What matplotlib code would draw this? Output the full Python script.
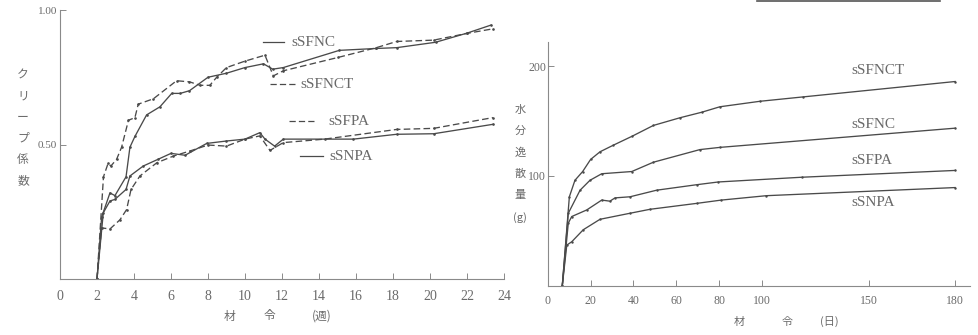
import numpy as np
import matplotlib
matplotlib.use("Agg")
from matplotlib import pyplot as plt
from matplotlib.lines import Line2D

# --- left chart: creep coefficient vs age (weeks)
sfnc_x = [2.0, 2.25, 2.7, 2.97, 3.57, 3.78, 4.05, 4.68, 5.4, 6.04, 6.5, 7.0, 8.0, 9.0, 10.0, 11.0, 11.5, 12.07, 15.1, 17.1, 18.2, 20.3, 22.0, 23.3]
sfnc_y = [0.0, 0.23, 0.32, 0.31, 0.38, 0.49, 0.53, 0.61, 0.64, 0.69, 0.69, 0.70, 0.75, 0.765, 0.786, 0.80, 0.78, 0.786, 0.85, 0.857, 0.86, 0.88, 0.914, 0.944]
sfnct_x = [2.0, 2.35, 2.6, 2.75, 3.06, 3.33, 3.7, 4.05, 4.23, 5.05, 6.3, 7.0, 7.57, 8.1, 8.47, 9.0, 10.0, 11.08, 11.53, 12.07, 15.05, 17.1, 18.2, 20.2, 22.0, 23.4]
sfnct_y = [0.0, 0.38, 0.43, 0.42, 0.445, 0.49, 0.59, 0.60, 0.65, 0.67, 0.737, 0.733, 0.72, 0.72, 0.75, 0.786, 0.81, 0.832, 0.755, 0.774, 0.824, 0.86, 0.883, 0.888, 0.913, 0.93]
snpa_x = [2.0, 2.34, 2.7, 2.97, 3.57, 3.78, 4.5, 5.3, 6.0, 6.76, 7.93, 9.0, 10.0, 10.8, 11.08, 11.6, 12.07, 15.86, 18.2, 20.2, 23.4]
snpa_y = [0.0, 0.246, 0.29, 0.296, 0.333, 0.383, 0.42, 0.445, 0.467, 0.46, 0.504, 0.513, 0.52, 0.544, 0.52, 0.494, 0.52, 0.52, 0.538, 0.54, 0.575]
sfpa_x = [2.0, 2.25, 2.7, 3.24, 3.6, 3.84, 4.32, 5.23, 6.13, 7.03, 8.0, 9.0, 10.0, 10.8, 11.35, 12.07, 14.3, 18.2, 20.2, 23.4]
sfpa_y = [0.0, 0.19, 0.186, 0.22, 0.258, 0.333, 0.383, 0.432, 0.457, 0.476, 0.498, 0.494, 0.52, 0.532, 0.478, 0.507, 0.52, 0.556, 0.56, 0.60]

# --- right chart: moisture loss (g) vs age (days)
w_sfnct_x = [6.8, 10.1, 12.7, 16.3, 20.0, 24.4, 30.6, 39.2, 49.3, 61.7, 71.8, 80.3, 99.0, 119.2, 180.0]
w_sfnct_y = [0, 81, 96, 104, 115, 122, 128, 136, 146, 153, 158, 163, 168, 172, 186]
w_sfnc_x = [6.8, 9.6, 15.1, 19.7, 25.2, 39.2, 49.3, 71.0, 80.3, 180.0]
w_sfnc_y = [0, 66, 87, 96, 102, 104, 112.5, 124, 126, 143.5]
w_sfpa_x = [6.8, 9.6, 11.2, 18.2, 25.2, 29.0, 31.4, 38.4, 50.8, 69.5, 79.6, 118.4, 180.0]
w_sfpa_y = [0, 57, 63, 69, 78, 77, 80, 81, 87, 92, 94.5, 98.8, 105]
w_snpa_x = [6.8, 8.9, 11.2, 16.6, 24.4, 38.4, 47.7, 69.5, 81.0, 102.0, 180.0]
w_snpa_y = [0, 37, 40, 51, 60.5, 66, 69.6, 75, 78, 82, 89.4]

left_xticks = [0, 2, 4, 6, 8, 10, 12, 14, 16, 18, 20, 22, 24]
left_yticks = [0.5, 1.0]
left_ylabels = ["0.50", "1.00"]
right_xticks = [0, 20, 40, 60, 80, 100, 150, 180]
right_yticks = [100, 200]

LINE = "#4a4a4a"
TEXT = "#6a6a6a"
SERIF = "Liberation Serif"
CJK = ["Noto Sans CJK JP", "DejaVu Sans"]
dash = (0, (5, 2.5))

fig = plt.figure(figsize=(9.79, 3.35), dpi=100)

def style(ax):
    for s in ("top", "right"):
        ax.spines[s].set_visible(False)
    for s in ("left", "bottom"):
        ax.spines[s].set_color("#8a8a8a")
        ax.spines[s].set_linewidth(0.8)
    ax.tick_params(direction="in", length=4, width=0.7, color="#8a8a8a", labelcolor=TEXT)
    for lab in ax.get_xticklabels() + ax.get_yticklabels():
        lab.set_fontfamily(SERIF)

# left
ax1 = fig.add_axes([60 / 979, 56 / 335, 444 / 979, 269 / 335])
kw = dict(color=LINE, lw=0.95, marker=".", ms=1.8)
ax1.plot(sfnc_x, sfnc_y, **kw)
ax1.plot(sfnct_x, sfnct_y, ls=dash, **kw)
ax1.plot(snpa_x, snpa_y, **kw)
ax1.plot(sfpa_x, sfpa_y, ls=dash, **kw)
ax1.set_xlim(0, 24)
ax1.set_ylim(0, 1.0)
ax1.set_xticks(left_xticks)
ax1.set_yticks(left_yticks, left_ylabels)
ax1.tick_params(axis="x", labelsize=10, pad=8)
ax1.tick_params(axis="y", labelsize=8, pad=2)
style(ax1)

legend_items = [
    ("sSFNC", "-", 11.0, 12.1, 12.5, 0.88),
    ("sSFNCT", dash, 11.35, 12.7, 13.0, 0.724),
    ("sSFPA", dash, 12.4, 13.9, 14.5, 0.586),
    ("sSNPA", "-", 13.0, 14.2, 14.55, 0.456),
]
for name, ls, x0, x1, xt, y in legend_items:
    ax1.plot([x0, x1], [y, y], color=LINE, lw=0.9, ls=ls)
    ax1.text(xt, y, name, fontsize=11, family=SERIF, color=TEXT, va="center")

fig.text(23 / 979, 1 - 128 / 335, "\n".join("クリープ係数"), family=CJK, fontsize=8.5,
         color=TEXT, ha="center", va="center", linespacing=1.8)
for ch, px in (("材", 230), ("令", 270), ("(週)", 322)):
    fig.text(px / 979, 1 - 316 / 335, ch, family=CJK, fontsize=8.5, color=TEXT,
             ha="center", va="center")

# right
def fwd(x):
    x = np.asarray(x, dtype=float)
    return np.where(x > 150, 150 + (x - 150) * 4 / 3, x)

def inv(x):
    x = np.asarray(x, dtype=float)
    return np.where(x > 150, 150 + (x - 150) * 3 / 4, x)

ax2 = fig.add_axes([547.7 / 979, 49.3 / 335, 422.3 / 979, 243.7 / 335])
ax2.set_xscale("function", functions=(fwd, inv))
kw2 = dict(color=LINE, lw=0.95, marker=".", ms=1.5)
ax2.plot(w_sfnct_x, w_sfnct_y, **kw2)
ax2.plot(w_sfnc_x, w_sfnc_y, **kw2)
ax2.plot(w_sfpa_x, w_sfpa_y, **kw2)
ax2.plot(w_snpa_x, w_snpa_y, **kw2)
ax2.set_xlim(0, 185.2)
ax2.set_ylim(0, 222)
ax2.set_xticks(right_xticks)
ax2.set_yticks(right_yticks)
ax2.tick_params(axis="x", labelsize=8.5, pad=7)
ax2.tick_params(axis="y", labelsize=8.5, pad=1)
style(ax2)

for name, y in (("sSFNCT", 196), ("sSFNC", 147), ("sSFPA", 114), ("sSNPA", 76)):
    ax2.text(141.5, y, name, fontsize=11, family=SERIF, color=TEXT, va="center")

fig.text(520 / 979, 1 - 164 / 335, "\n".join(["水", "分", "逸", "散", "量", "(g)"]), family=CJK,
         fontsize=8, color=TEXT, ha="center", va="center", linespacing=2.35)
for ch, px in (("材", 739), ("令", 787), ("(日)", 829)):
    fig.text(px / 979, 1 - 322 / 335, ch, family=CJK, fontsize=8, color=TEXT,
             ha="center", va="center")

# scan artefact at top right
fig.add_artist(Line2D([757 / 979, 940 / 979], [0.998, 0.998], color="#555555", lw=1.2))

fig.savefig("out.png", dpi=100, facecolor="white")
